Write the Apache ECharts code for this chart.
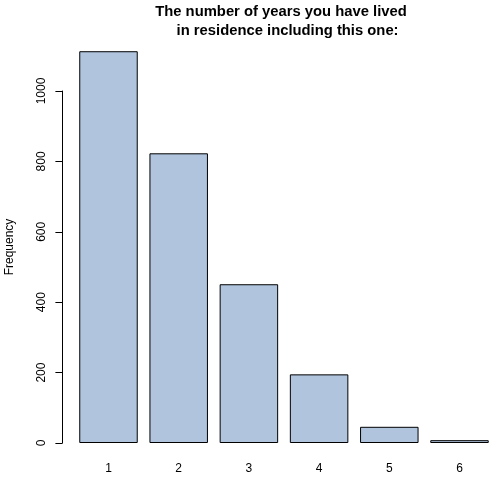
<!DOCTYPE html>
<html>
<head>
<meta charset="utf-8">
<script src="https://cdn.jsdelivr.net/npm/echarts@6/dist/echarts.min.js"></script>
<style>
html,body{margin:0;padding:0;background:#fff;overflow:hidden;}
#chart{width:500px;height:481px;}
</style>
</head>
<body>
<div id="chart"></div>
<script>
var categories = ['1', '2', '3', '4', '5', '6'];
var frequencies = [1113, 823, 451, 195, 46, 8];
var yTicks = [0, 200, 400, 600, 800, 1000];
var titleLines = ['The number of years you have lived', ' in residence including this one:'];
var yAxisTitle = 'Frequency';

var chart = echarts.init(document.getElementById('chart'), null, {renderer: 'canvas'});
var font = 'Liberation Sans, Arial, Helvetica, sans-serif';
chart.setOption({
  animation: false,
  backgroundColor: '#ffffff',
  grid: {left: 73.4, width: 421.2, top: 91, bottom: 38, containLabel: false},
  xAxis: {
    type: 'category',
    data: categories,
    boundaryGap: true,
    axisLine: {show: false},
    axisTick: {show: false},
    axisLabel: {color: '#000', fontSize: 12, fontFamily: font, margin: 20}
  },
  yAxis: {
    type: 'value',
    min: yTicks[0],
    max: yTicks[yTicks.length - 1],
    interval: 200,
    offset: 11,
    axisLine: {show: true, lineStyle: {color: '#000', width: 1}},
    axisTick: {show: true, length: 7, lineStyle: {color: '#000', width: 1}},
    splitLine: {show: false},
    axisLabel: {color: '#000', fontSize: 12, fontFamily: font, rotate: 90, margin: 15,
      formatter: function (v) { return String(v); }}
  },
  series: [{
    type: 'bar',
    data: frequencies,
    clip: false,
    barCategoryGap: '16.67%',
    itemStyle: {color: '#B0C4DE', borderColor: '#000', borderWidth: 1}
  }],
  graphic: [
    {type: 'text', x: 281, y: 12, style: {text: titleLines[0], font: 'bold 14.8px ' + font, fill: '#000', textAlign: 'center', textVerticalAlign: 'middle'}},
    {type: 'text', x: 285.5, y: 30.7, style: {text: titleLines[1], font: 'bold 14.8px ' + font, fill: '#000', textAlign: 'center', textVerticalAlign: 'middle'}},
    {type: 'text', x: 10, y: 247, rotation: Math.PI / 2, style: {text: yAxisTitle, font: '12px ' + font, fill: '#000', textAlign: 'center', textVerticalAlign: 'middle'}}
  ]
});
</script>
</body>
</html>
